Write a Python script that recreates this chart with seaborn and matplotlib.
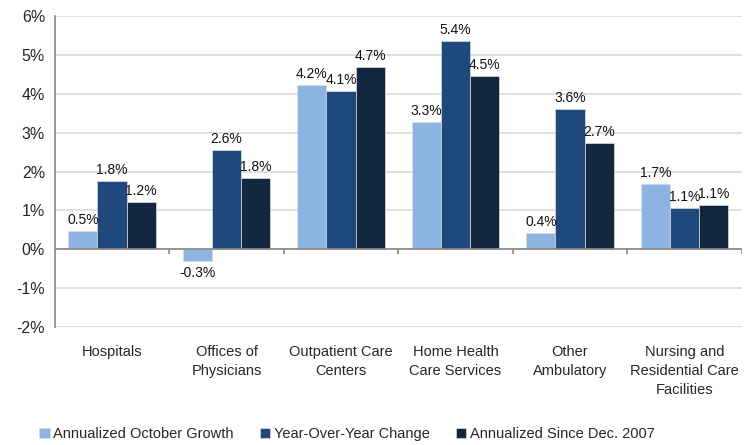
import matplotlib
matplotlib.use('Agg')
from matplotlib import pyplot as plt
import numpy as np
import pandas as pd
import seaborn as sns

categories = ['Hospitals', 'Offices of\nPhysicians', 'Outpatient Care\nCenters',
              'Home Health\nCare Services', 'Other\nAmbulatory',
              'Nursing and\nResidential Care\nFacilities']
series = ['Annualized October Growth', 'Year-Over-Year Change', 'Annualized Since Dec. 2007']
october = [0.47, -0.31, 4.23, 3.27, 0.41, 1.68]
yoy = [1.76, 2.56, 4.07, 5.36, 3.61, 1.06]
since_2007 = [1.21, 1.83, 4.69, 4.46, 2.73, 1.13]
colors = ['#8DB3E2', '#1F497D', '#12263F']

df = pd.DataFrame({
    'category': categories * 3,
    'series': [series[0]] * 6 + [series[1]] * 6 + [series[2]] * 6,
    'value': october + yoy + since_2007,
})

sns.set_style('white')
plt.rcParams['font.family'] = ['Liberation Sans', 'DejaVu Sans']

fig = plt.figure(figsize=(7.5, 4.45), dpi=100)
ax = fig.add_axes([0.073, 0.265, 0.916, 0.699])

sns.barplot(data=df, x='category', y='value', hue='series', palette=colors,
            saturation=1, width=0.76, gap=0, ax=ax, edgecolor='#dddddd', linewidth=0.5)

for cont in ax.containers:
    ax.bar_label(cont, fmt='%.1f%%', padding=3, fontsize=10, color='#111111')

ax.set_ylim(-2, 6)
ax.set_xlim(-0.5, 5.5)
ax.set_yticks(range(-2, 7))
ax.set_yticklabels(['{}%'.format(v) for v in range(-2, 7)], fontsize=11.5)
ax.tick_params(axis='y', length=4, color='#888888', direction='out', pad=3)
ax.tick_params(axis='x', length=0, labelsize=10.5, pad=13)
for lab in ax.get_xticklabels():
    lab.set_linespacing(1.45)
ax.yaxis.grid(True, color='#d9d9d9', linewidth=1.2)
ax.set_axisbelow(True)
ax.set_xlabel('')
ax.set_ylabel('')

for s in ['top', 'right', 'bottom']:
    ax.spines[s].set_visible(False)
ax.spines['left'].set_color('#888888')
ax.spines['left'].set_linewidth(1.2)

# zero line with category separators
ax.axhline(0, color='#888888', linewidth=1.2, zorder=3)
ax.vlines(np.arange(0.5, 6, 1), -0.12, 0, color='#888888', linewidth=1.2, zorder=3)

handles, labels = ax.get_legend_handles_labels()
ax.legend(handles, labels, loc='lower left', bbox_to_anchor=(0.035, -0.02),
          bbox_transform=fig.transFigure, ncol=3, frameon=False, fontsize=10.5,
          handlelength=0.7, handleheight=0.7, handletextpad=0.25, columnspacing=1.8)

plt.savefig('out.png', dpi=100)
